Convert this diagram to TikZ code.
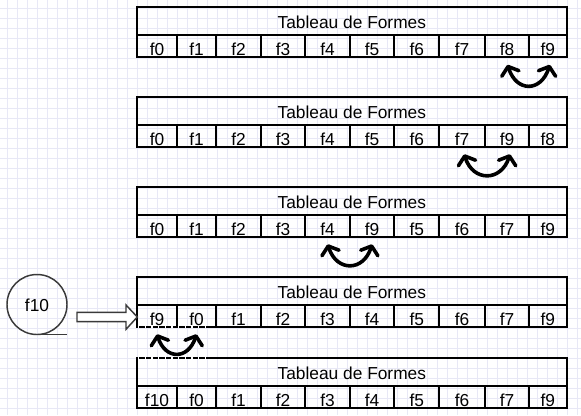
\documentclass[tikz,border=0pt]{standalone}
\usepackage{fontspec}
\setmainfont{Liberation Sans}
\usetikzlibrary{arrows.meta,calc}
\definecolor{gridc}{HTML}{E8E8F6}
\definecolor{strokeg}{HTML}{3A3A3A}
\begin{document}
\begin{tikzpicture}[x=0.75pt,y=-0.75pt,
  font=\fontsize{13pt}{15pt}\selectfont,
  gridline/.style={draw=gridc, line width=0.75pt},
  cellbox/.style={draw=black, line width=1.6pt, inner sep=0pt, outer sep=0pt,
    minimum height=16.95pt, text height=13.5pt, text depth=0pt},
  hdrbox/.style={draw=black, line width=1.6pt, inner sep=0pt, outer sep=0pt,
    minimum width=322.27pt, minimum height=20.55pt, text height=11pt, text depth=0pt},
  swaparc/.style={line width=2.7pt, line cap=round, line join=round,
    {Straight Barb[length=5.5pt,width=13.5pt,line cap=round,line join=round]}-{Straight Barb[length=5.5pt,width=13.5pt,line cap=round,line join=round]}},
  tapecircle/.style={circle, draw=strokeg, line width=1.1pt, inner sep=0pt, outer sep=0pt,
    minimum size=45pt, text height=10.8pt, text depth=0pt},
  blockarrow/.style={draw=strokeg, fill=white, line width=1.1pt, line join=miter},
  artifact/.style={draw=white, line width=1.7pt, dash pattern=on 1pt off 4pt}
]
\useasboundingbox (0,0) rectangle (581,415);
\fill[white] (0,0) rectangle (581,415);
% grid
\foreach \gx in {7.3,17.3,...,578} \draw[gridline] (\gx,0) -- (\gx,415);
\foreach \gy in {8.3,18.3,...,412} \draw[gridline] (0,\gy) -- (581,\gy);

% tables
\foreach \t/\T/\cells in {
  1/7.3/{f0,f1,f2,f3,f4,f5,f6,f7,f8,f9},
  2/97.3/{f0,f1,f2,f3,f4,f5,f6,f7,f9,f8},
  3/187.3/{f0,f1,f2,f3,f4,f9,f5,f6,f7,f9},
  4/277.3/{f9,f0,f1,f2,f3,f4,f5,f6,f7,f9},
  5/358.3/{f10,f0,f1,f2,f3,f4,f5,f6,f7,f9}}{
  \node[hdrbox] (h\t) at (351.85,\T+13.7) {Tableau de Formes};
  \foreach \lbl [count=\i] in \cells {
    \pgfmathsetmacro\xa{{137,177,216,261,305.3,350,394.3,439.3,485,529,566.7}[\i-1]}
    \pgfmathsetmacro\xb{{137,177,216,261,305.3,350,394.3,439.3,485,529,566.7}[\i]}
    \node[cellbox, minimum width={(\xb-\xa)*0.75pt}] (t\t c\i) at ({(\xa+\xb)/2},\T+27.4+11.3) {\lbl};
  }
}

% draw.io rendering artifacts on borders
\draw[artifact] (138,327.3) -- (210,327.3);
\draw[artifact] (138,358.3) -- (210,358.3);

% swap arcs
\draw[swaparc] ($(t1c9.south)+(0.5,7.5)$) .. controls +(72:29) and +(108:29) .. ($(t1c10.south)+(2,7.5)$);
\draw[swaparc] ($(t2c8.south)+(2,7)$) .. controls +(72:29) and +(108:29) .. ($(t2c9.south)+(3,7)$);
\draw[swaparc] ($(t3c5.south)+(0,7)$) .. controls +(72:29) and +(108:29) .. ($(t3c6.south)+(0,7)$);
\draw[swaparc] ($(t4c1.south)+(0,7)$) .. controls +(72:27) and +(108:27) .. ($(t4c2.south)+(0,7)$);

% tape circle
\node[tapecircle] (f10c) at (37,304.5) {f10};
\draw[draw=strokeg, line width=1.1pt] (f10c.south) -- ++(30,0);

% block arrow
\draw[blockarrow] (77,312.3) -- (126,312.3) -- (126,305) -- (137.3,317) -- (126,329.3) -- (126,321.7) -- (77,321.7) -- cycle;
\end{tikzpicture}
\end{document}
